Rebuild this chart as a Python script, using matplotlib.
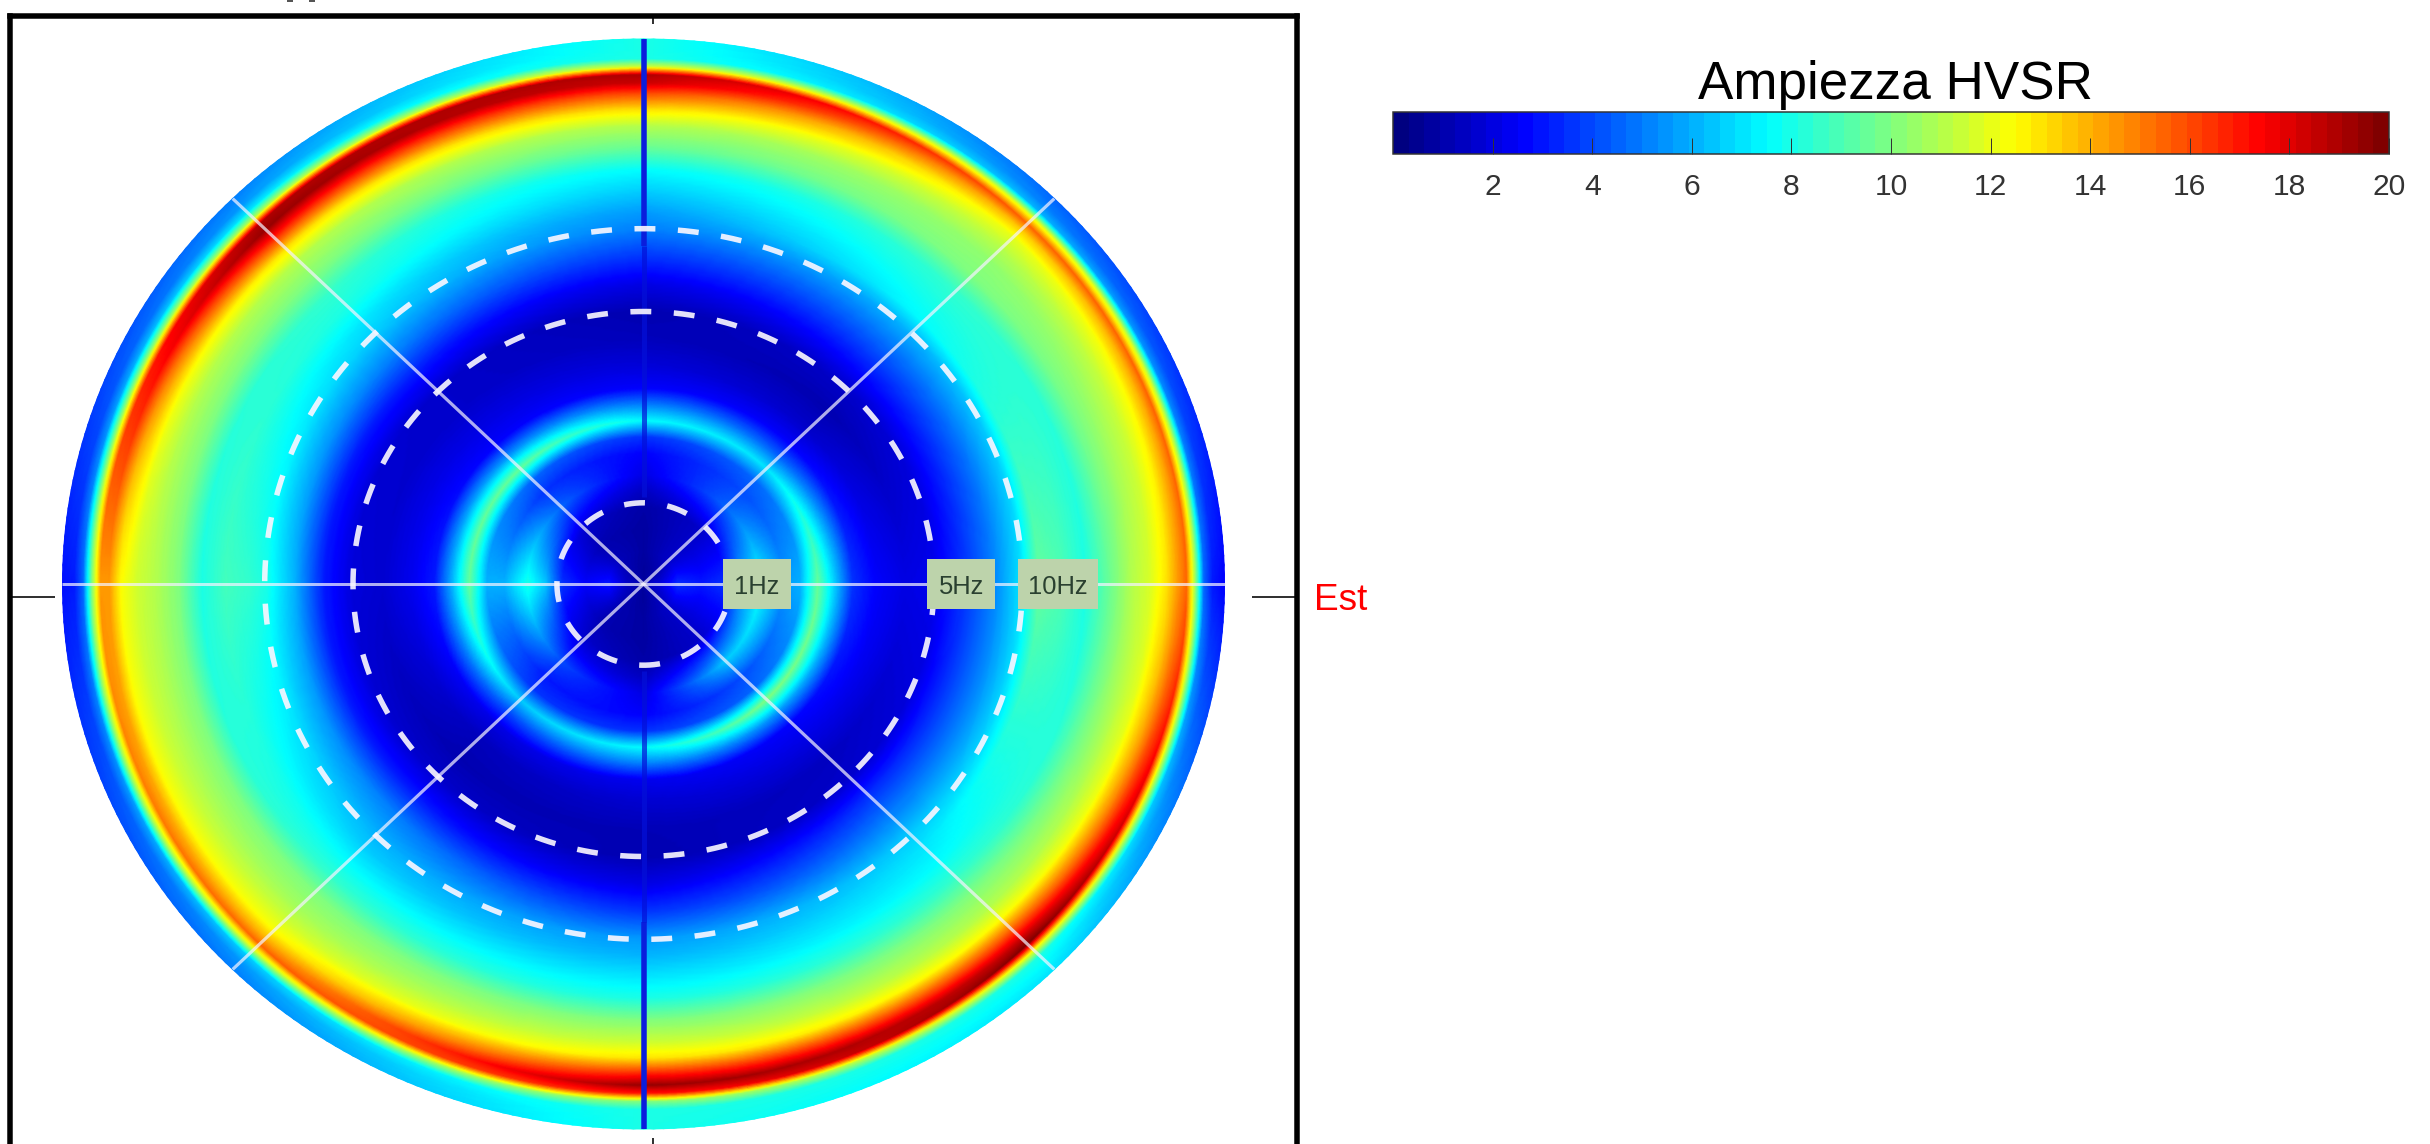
import numpy as np
import matplotlib
matplotlib.use("Agg")
import matplotlib.pyplot as plt
from matplotlib.colors import LinearSegmentedColormap, Normalize
from matplotlib.cm import ScalarMappable
from matplotlib.patches import Rectangle

W_PX, H_PX = 2430, 1144
RADII = [0, .03, .06, .10, .14, .17, .20, .24, .27, .30, .33, .36, .40, .45, .50, .55, .60, .65, .68, .72, .76, .80, .84, .87, .90, .92, .935, .95, .965, .98, 1.0]
AZIMUTHS = [0, 45, 90, 135, 180, 225, 270, 315]
EAST = [1.5, 2, 3.5, 3, 3.5, 6, 7.5, 5.5, 6, 9.5, 6.5, 3.5, 2.5, 2, 2.2, 3.5, 5, 7, 9.5, 9, 8, 9.5, 11, 11.7, 13, 14.5, 15.5, 10.5, 4.5, 3, 2.5]
NORTHEAST = [1, 1, 1.5, 1.5, 1.5, 3, 4.5, 4, 4.5, 7, 4.5, 2.5, 1.5, 1, 1.5, 3, 4.5, 6, 7.5, 8, 8.5, 10, 10.3, 11, 12, 13.5, 15.5, 12, 6, 5, 4.5]
NORTH = [.6, .6, .7, .7, .8, 1.3, 2, 2.5, 3.5, 7.5, 5, 2.5, 1.8, 1.2, 1, 2, 3.5, 5, 5.5, 6.5, 7.5, 9.5, 11, 13, 16, 18.5, 19, 11.5, 8, 8, 8]
NORTHWEST = [1, 1, 1.2, 1, 1.5, 3, 4.5, 3.5, 4.5, 9.5, 5.5, 2.5, 2, 1.5, 1.5, 3, 5, 6.5, 7, 8, 8.5, 10, 11, 13, 17, 19.5, 19, 11, 7, 5.5, 5]
WEST = [1, 1.5, 3, 2.5, 3.5, 6.5, 8, 6, 6, 9.5, 6, 3, 2.2, 1.6, 1.8, 3, 6, 8, 8.5, 8.8, 8, 10, 11, 11.5, 12.5, 14.5, 14.5, 10, 4.5, 3, 2.8]
SOUTHWEST = [1, 1, 1, 1, 1.5, 2.5, 4, 3, 3.5, 6.5, 4, 2, 1.2, 1, 1.5, 3, 5, 6, 6.5, 7.5, 8.5, 10, 10.7, 11.5, 12.5, 14, 15.5, 11.5, 6.5, 5.5, 5]
SOUTH = [.6, .6, .7, .7, .8, 1.3, 2, 2.5, 3.5, 7.5, 5, 2.2, 1.6, 1.1, 1, 2, 3.5, 5.5, 6, 7, 8, 10, 11.5, 13, 17, 19.5, 17, 10, 8, 8, 8]
SOUTHEAST = [1, 1.2, 1.5, 1.5, 1.5, 4, 6.5, 4, 4.5, 10, 5.5, 2.5, 2, 1.3, 1.5, 3.5, 5, 6.5, 7, 7.5, 8.5, 10, 11, 12.5, 16, 18.5, 20, 12.5, 8, 7.5, 7]
FREQ_LABELS = ["1Hz", "5Hz", "10Hz"]
FREQ_RADII = [0.149, 0.50, 0.652]
FREQ_BOX_CENTRES = [0.195, 0.547, 0.7126]
CBAR_TICKS = [2, 4, 6, 8, 10, 12, 14, 16, 18, 20]
CBAR_TITLE = "Ampiezza HVSR"

SANS = ["Liberation Sans", "DejaVu Sans"]
PX = 72 / 100  # points per pixel at dpi 100

jet_nodes = [(0, (0, 0, .5)), (.125, (0, 0, 1)), (.375, (0, 1, 1)), (.625, (1, 1, 0)), (.875, (1, 0, 0)), (1, (.5, 0, 0))]
fine_cmap = LinearSegmentedColormap.from_list("mjet", jet_nodes, N=256)
band_cmap = LinearSegmentedColormap.from_list("mjet64", jet_nodes, N=64)
norm = Normalize(0, 20)

fig = plt.figure(figsize=(W_PX / 100, H_PX / 100), dpi=100, facecolor="white")

# Axes frame, whose lower edge runs past the bottom of the picture
L, R, T, B = 10.5, 1296.5, 15.5, 1179
CX, CY, RX, RY = 643.5, 584, 581, 545
ax = fig.add_axes([L / W_PX, 1 - B / H_PX, (R - L) / W_PX, (B - T) / H_PX])
ax.set_xlim((L - CX) / RX, (R - CX) / RX)
ax.set_ylim((CY - B) / RY, (CY - T) / RY)
for s in ax.spines.values():
    s.set_linewidth(5.5 * PX)
    s.set_color("black")

# Field
table = np.array([EAST, NORTHEAST, NORTH, NORTHWEST, WEST, SOUTHWEST, SOUTH, SOUTHEAST], dtype=float)
az = np.array(AZIMUTHS + [360], dtype=float)
table = np.vstack([table, table[0]])
rad = np.array(RADII)
r_fine = np.linspace(0, 1, 401)
t_fine = np.linspace(0, 360, 361)
by_r = np.array([np.interp(r_fine, rad, row) for row in table])
field = np.array([np.interp(t_fine, az, by_r[:, j]) for j in range(r_fine.size)])
tt, rr = np.meshgrid(np.deg2rad(t_fine), r_fine)
ax.pcolormesh(rr * np.cos(tt), rr * np.sin(tt), field, cmap=fine_cmap, norm=norm, shading="gouraud", zorder=1)

# Blue centre line
for sign in (1, -1):
    ax.plot([0, 0], [sign * .62, sign * 1], color="#0a1edc", lw=5.5 * PX, solid_capstyle="butt", zorder=2)
    ax.plot([0, 0], [sign * .16, sign * .62], color="#0410d8", lw=5 * PX, alpha=.7, solid_capstyle="butt", zorder=2)

# Spokes
for deg, width in zip([0, 45, 135], [3, 3.2, 3.2]):
    a = np.deg2rad(deg)
    ax.plot([-np.cos(a), np.cos(a)], [-np.sin(a), np.sin(a)], color="#f4f2ff",
            alpha=.72, lw=width * PX, solid_capstyle="butt", zorder=3)

# Dashed rings
circle = np.linspace(0, 2 * np.pi, 500)
for rf in FREQ_RADII:
    ax.plot(rf * np.cos(circle), rf * np.sin(circle), color="#f8f6ff", alpha=.92, lw=5.5 * PX,
            dashes=(3.8, 4.1), zorder=4)

# Frequency labels
box_w = [68, 68, 80]
box_h = 50 / RY
for label, xc, bw in zip(FREQ_LABELS, FREQ_BOX_CENTRES, box_w):
    w = bw / RX
    ax.add_patch(Rectangle((xc - w / 2, -box_h / 2), w, box_h, facecolor="#bdd3ab", edgecolor="none", zorder=5))
    ax.text(xc, -3 / RY, label, ha="center", va="center", family=SANS, fontsize=25.5 * PX, color="#2a4030", zorder=6)

# Ticks, one pair per axis at the frame's middle
ax.set_xticks([(653 - CX) / RX])
ax.set_yticks([(CY - 597) / RY])
ax.set_xticklabels([])
ax.set_yticklabels([])
ax.tick_params(axis="x", direction="in", length=41 * PX, width=1.6 * PX, top=False, bottom=True)
ax.tick_params(axis="y", direction="in", length=45 * PX, width=1.6 * PX, left=True, right=True)
top = ax.secondary_xaxis("top")
top.set_xticks([(653 - CX) / RX])
top.set_xticklabels([])
top.tick_params(direction="in", length=9 * PX, width=1.6 * PX)
top.spines["top"].set_visible(False)

fig.text(1314 / W_PX, 1 - 600 / H_PX, "Est", color="red", family=SANS, fontsize=37 * PX, ha="left", va="center")

# Remains of an illegible heading that the picture's top edge crops off
for left in (287, 309):
    fig.add_artist(Rectangle((left / W_PX, 1 - 2 / H_PX), 6 / W_PX, 2 / H_PX, transform=fig.transFigure,
                             facecolor="#555555", edgecolor="none"))

# Colour bar
cax = fig.add_axes([1393 / W_PX, 1 - 154 / H_PX, 996 / W_PX, 42 / H_PX])
cb = fig.colorbar(ScalarMappable(norm=norm, cmap=band_cmap), cax=cax, orientation="horizontal", ticks=CBAR_TICKS)
cb.ax.tick_params(direction="in", length=16 * PX, width=1 * PX, color="#333333", pad=19 * PX, labelcolor="#333333")
cb.ax.set_xticklabels([str(t) for t in CBAR_TICKS], family=SANS, fontsize=30 * PX)
cb.outline.set_linewidth(1.5 * PX)
cb.outline.set_edgecolor("#333333")

fig.text(1895 / W_PX, 1 - 99 / H_PX, CBAR_TITLE, family=SANS, fontsize=53 * PX, ha="center", va="baseline", color="black")

fig.savefig("out.png", dpi=100, facecolor="white")
